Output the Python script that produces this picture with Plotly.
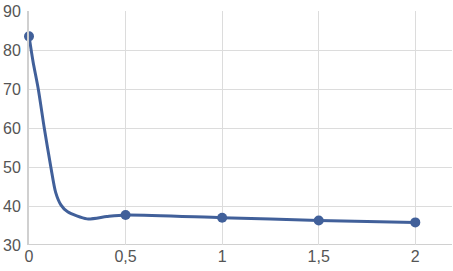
import plotly.graph_objects as go

# curve (smoothed line) points
curve_x = [0, 0.021, 0.048, 0.079, 0.113, 0.138, 0.165, 0.2, 0.3, 0.403, 0.5, 1.0, 1.5, 2.0]
curve_y = [83.6, 77.0, 70.0, 60.0, 50.0, 43.5, 40.3, 38.5, 36.7, 37.3, 37.7, 37.0, 36.3, 35.8]

# marked points
mark_x = [0, 0.5, 1.0, 1.5, 2.0]
mark_y = [83.5, 37.7, 37.0, 36.3, 35.8]

x_ticks = [0, 0.5, 1, 1.5, 2]
x_labels = ["0", "0,5", "1", "1,5", "2"]
y_ticks = [30, 40, 50, 60, 70, 80, 90]

color = "#41609a"

fig = go.Figure()
fig.add_trace(go.Scatter(x=curve_x, y=curve_y, mode="lines",
                         line=dict(color=color, width=3, shape="spline", smoothing=0.7),
                         hoverinfo="skip", showlegend=False, cliponaxis=False))
fig.add_trace(go.Scatter(x=mark_x, y=mark_y, mode="markers",
                         marker=dict(color=color, size=10), showlegend=False,
                         cliponaxis=False))

fig.update_layout(
    width=453, height=271,
    margin=dict(l=29, r=1, t=11, b=26),
    paper_bgcolor="white", plot_bgcolor="white",
    font=dict(family="Liberation Sans, Arial, sans-serif", size=16, color="#555555"),
)
fig.update_xaxes(range=[0, 2.19], tickvals=x_ticks, ticktext=x_labels,
                 showgrid=True, gridcolor="#dcdcdc", gridwidth=1,
                 zeroline=False, showline=False,
                 ticks="", ticklen=0)
fig.update_yaxes(range=[30, 90], tickvals=y_ticks,
                 showgrid=True, gridcolor="#dcdcdc", gridwidth=1,
                 zeroline=False, showline=True, linecolor="#d0d0d0", linewidth=2,
                 ticks="outside", ticklen=3, tickcolor="rgba(0,0,0,0)")
fig.add_shape(type="line", xref="paper", yref="y", x0=0, x1=1, y0=30, y1=30,
              line=dict(color="#d0d0d0", width=2), layer="below")

fig.write_html("out.html")
